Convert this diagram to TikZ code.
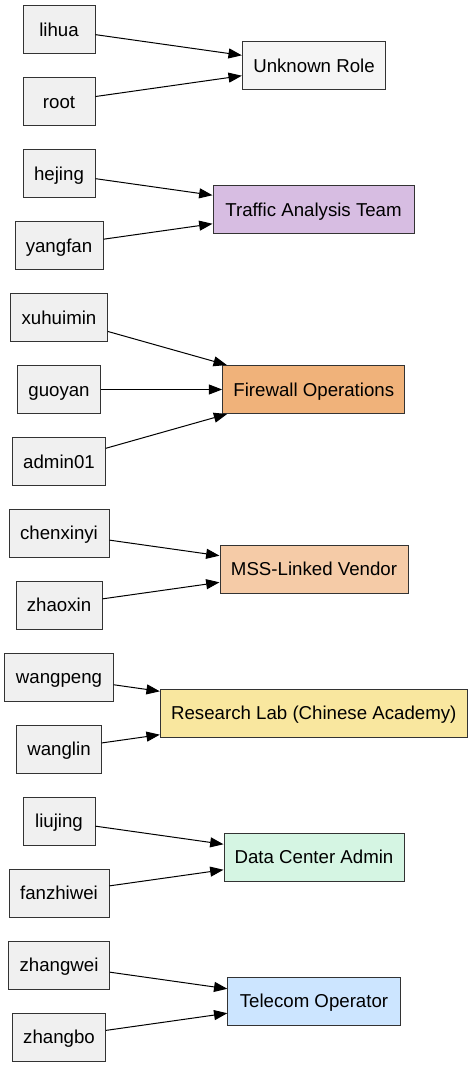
\documentclass[tikz,border=0pt]{standalone}
\usepackage{fontspec}
\setmainfont{Liberation Sans}
\usetikzlibrary{arrows.meta}
\definecolor{usr}{HTML}{F0F0F0}
\definecolor{unk}{HTML}{F5F5F5}
\definecolor{tat}{HTML}{D7BDE2}
\definecolor{fwo}{HTML}{F0B27A}
\definecolor{mss}{HTML}{F5CBA7}
\definecolor{rla}{HTML}{F9E79F}
\definecolor{dca}{HTML}{D5F5E3}
\definecolor{tel}{HTML}{CCE5FF}
\definecolor{bord}{HTML}{333333}
\tikzset{
  box/.style={draw=bord, line width=0.75pt, minimum height=36pt, inner sep=0pt,
    text height=10pt, text depth=0pt,
    font=\fontsize{14}{16}\selectfont, text=black},
  user/.style={box, fill=usr},
  role/.style={box},
  edge/.style={draw=black, line width=0.75pt, -{Triangle[length=10pt,width=7.5pt]}}
}
\begin{document}
\begin{tikzpicture}[x=0.75pt,y=-0.75pt]
\useasboundingbox (0,0) rectangle (473,1067);
% Unknown Role
\node[user, minimum width=54pt] (lihua) at (59,29.5) {lihua};
\node[user, minimum width=54pt] (root) at (59,101.7) {root};
\node[role, fill=unk, minimum width=107.5pt] (unknown) at (314,65.5) {Unknown Role};
% Traffic Analysis Team
\node[user, minimum width=54pt] (hejing) at (59,173.5) {hejing};
\node[user, minimum width=66pt] (yangfan) at (59,245.5) {yangfan};
\node[role, fill=tat, minimum width=150.75pt] (traffic) at (313.5,209.5) {Traffic Analysis Team};
% Firewall Operations
\node[user, minimum width=72.5pt] (xuhuimin) at (59,317.7) {xuhuimin};
\node[user, minimum width=62.3pt] (guoyan) at (59,389.5) {guoyan};
\node[user, minimum width=69.5pt] (admin01) at (59,461.5) {admin01};
\node[role, fill=fwo, minimum width=136.7pt] (firewall) at (313.8,389.5) {Firewall Operations};
% MSS-Linked Vendor
\node[user, minimum width=75pt] (chenxinyi) at (59,533) {chenxinyi};
\node[user, minimum width=64.5pt] (zhaoxin) at (59,605) {zhaoxin};
\node[role, fill=mss, minimum width=141pt] (mssv) at (314,569) {MSS-Linked Vendor};
% Research Lab
\node[user, minimum width=81.2pt] (wangpeng) at (59,677) {wangpeng};
\node[user, minimum width=63.2pt] (wanglin) at (59,749) {wanglin};
\node[role, fill=rla, minimum width=230.25pt] (research) at (313.8,713) {Research Lab (Chinese Academy)};
% Data Center Admin
\node[user, minimum width=54pt] (liujing) at (59,821) {liujing};
\node[user, minimum width=75pt] (fanzhiwei) at (59,893) {fanzhiwei};
\node[role, fill=dca, minimum width=135pt] (datacenter) at (314,857) {Data Center Admin};
% Telecom Operator
\node[user, minimum width=75.5pt] (zhangwei) at (59,965) {zhangwei};
\node[user, minimum width=69.5pt] (zhangbo) at (59,1037) {zhangbo};
\node[role, fill=tel, minimum width=129.2pt] (telecom) at (314,1001) {Telecom Operator};
% edges
\draw[edge] (lihua) -- (unknown);
\draw[edge] (root) -- (unknown);
\draw[edge] (hejing) -- (traffic);
\draw[edge] (yangfan) -- (traffic);
\draw[edge] (xuhuimin) -- (firewall);
\draw[edge] (guoyan) -- (firewall);
\draw[edge] (admin01) -- (firewall);
\draw[edge] (chenxinyi) -- (mssv);
\draw[edge] (zhaoxin) -- (mssv);
\draw[edge] (wangpeng) -- (research);
\draw[edge] (wanglin) -- (research);
\draw[edge] (liujing) -- (datacenter);
\draw[edge] (fanzhiwei) -- (datacenter);
\draw[edge] (zhangwei) -- (telecom);
\draw[edge] (zhangbo) -- (telecom);
\end{tikzpicture}
\end{document}
